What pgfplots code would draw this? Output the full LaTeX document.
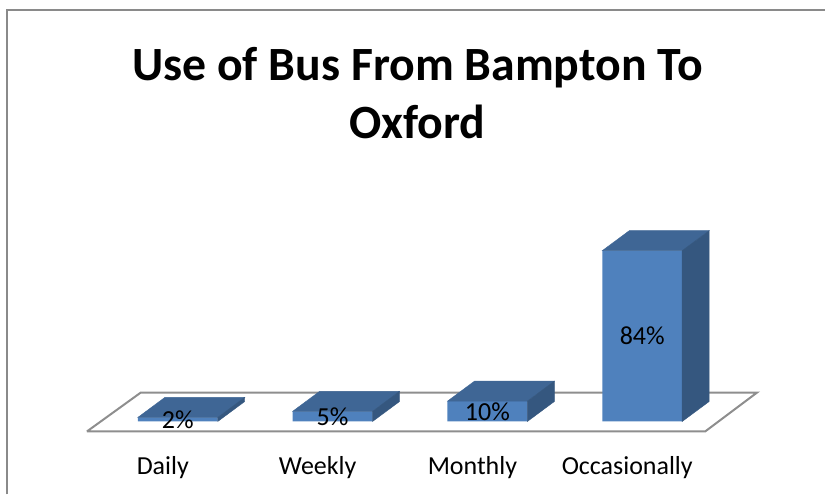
\documentclass[border=0pt]{standalone}
\usepackage{pgfplots}
\usepackage{pgfplotstable}
\pgfplotsset{compat=1.18}
\usepackage{fontspec}
\setmainfont{Carlito}
\definecolor{frontc}{HTML}{4F81BD}
\definecolor{topc}{HTML}{3F6695}
\definecolor{sidec}{HTML}{35577F}
\definecolor{floorc}{HTML}{8E8E8E}
\definecolor{borderc}{HTML}{8A8A8A}
\pgfdeclareplotmark{nothing}{}
\pgfplotstableread{
x v
0 2
1 5
2 10
3 84
}\bus
\begin{document}
\begin{tikzpicture}
\begin{axis}[
  x=155pt, y=2.036pt,
  xmin=-1, xmax=4, ymin=-26.03, ymax=100,
  clip=false,
  /pgf/number format/assume math mode=true,
  axis line style={draw=none},
  major tick length=0pt,
  ytick=\empty,
  xtick={0,1,2,3},
  xticklabels={Daily,Weekly,Monthly,Occasionally},
  xticklabel style={anchor=base, xshift=-15pt, font=\fontsize{26}{30}\selectfont, inner sep=0pt},
]
% page bounds
\path (axis cs:-1.1484,207.27) rectangle (axis cs:4.1806,-35.855);
% chart border
\draw[borderc, line width=2pt] (axis cs:-1.1032,-35.855) -- (axis cs:-1.1032,202.36) -- (axis cs:4.1806,202.36);
% floor
\addplot[floorc, line width=2pt, mark=none] coordinates {(-0.5871,-4.912) (3.4065,-4.912) (3.7419,14.244) (-0.2387,14.244) (-0.5871,-4.912)};
% top and side faces
\addplot[scatter, only marks, mark=nothing,
  visualization depends on={\thisrow{v} \as \val},
  scatter/@pre marker code/.code={%
    \pgfmathsetmacro\h{\val*2.036}%
    \fill[topc] (-40pt,0pt) -- (40pt,0pt) -- (67pt,20pt) -- (-13pt,20pt) -- cycle;
    \fill[sidec] (40pt,0pt) -- (67pt,20pt) -- (67pt,20pt-\h pt) -- (40pt,-\h pt) -- cycle;
  },
  scatter/@post marker code/.code={}
] table[x=x, y=v] {\bus};
% front faces
\addplot[ybar, bar width=80pt, fill=frontc, draw=none] table[x=x, y=v] {\bus};
% data labels
\addplot[draw=none, mark=none, point meta=explicit,
  nodes near coords={\pgfmathprintnumber{\pgfplotspointmeta}\%},
  every node near coord/.style={anchor=center, font=\fontsize{26}{30}\selectfont, text=black, inner sep=0pt}
] table[x=x, y expr=\thisrow{v}/2, meta=v] {\bus};
% title
\node[anchor=base, font=\bfseries\fontsize{47.8}{56}\selectfont] at (axis cs:1.548,167.49) {Use of Bus From Bampton To};
\node[anchor=base, font=\bfseries\fontsize{47.8}{56}\selectfont] at (axis cs:1.548,139.0) {Oxford};
\end{axis}
\end{tikzpicture}
\end{document}
